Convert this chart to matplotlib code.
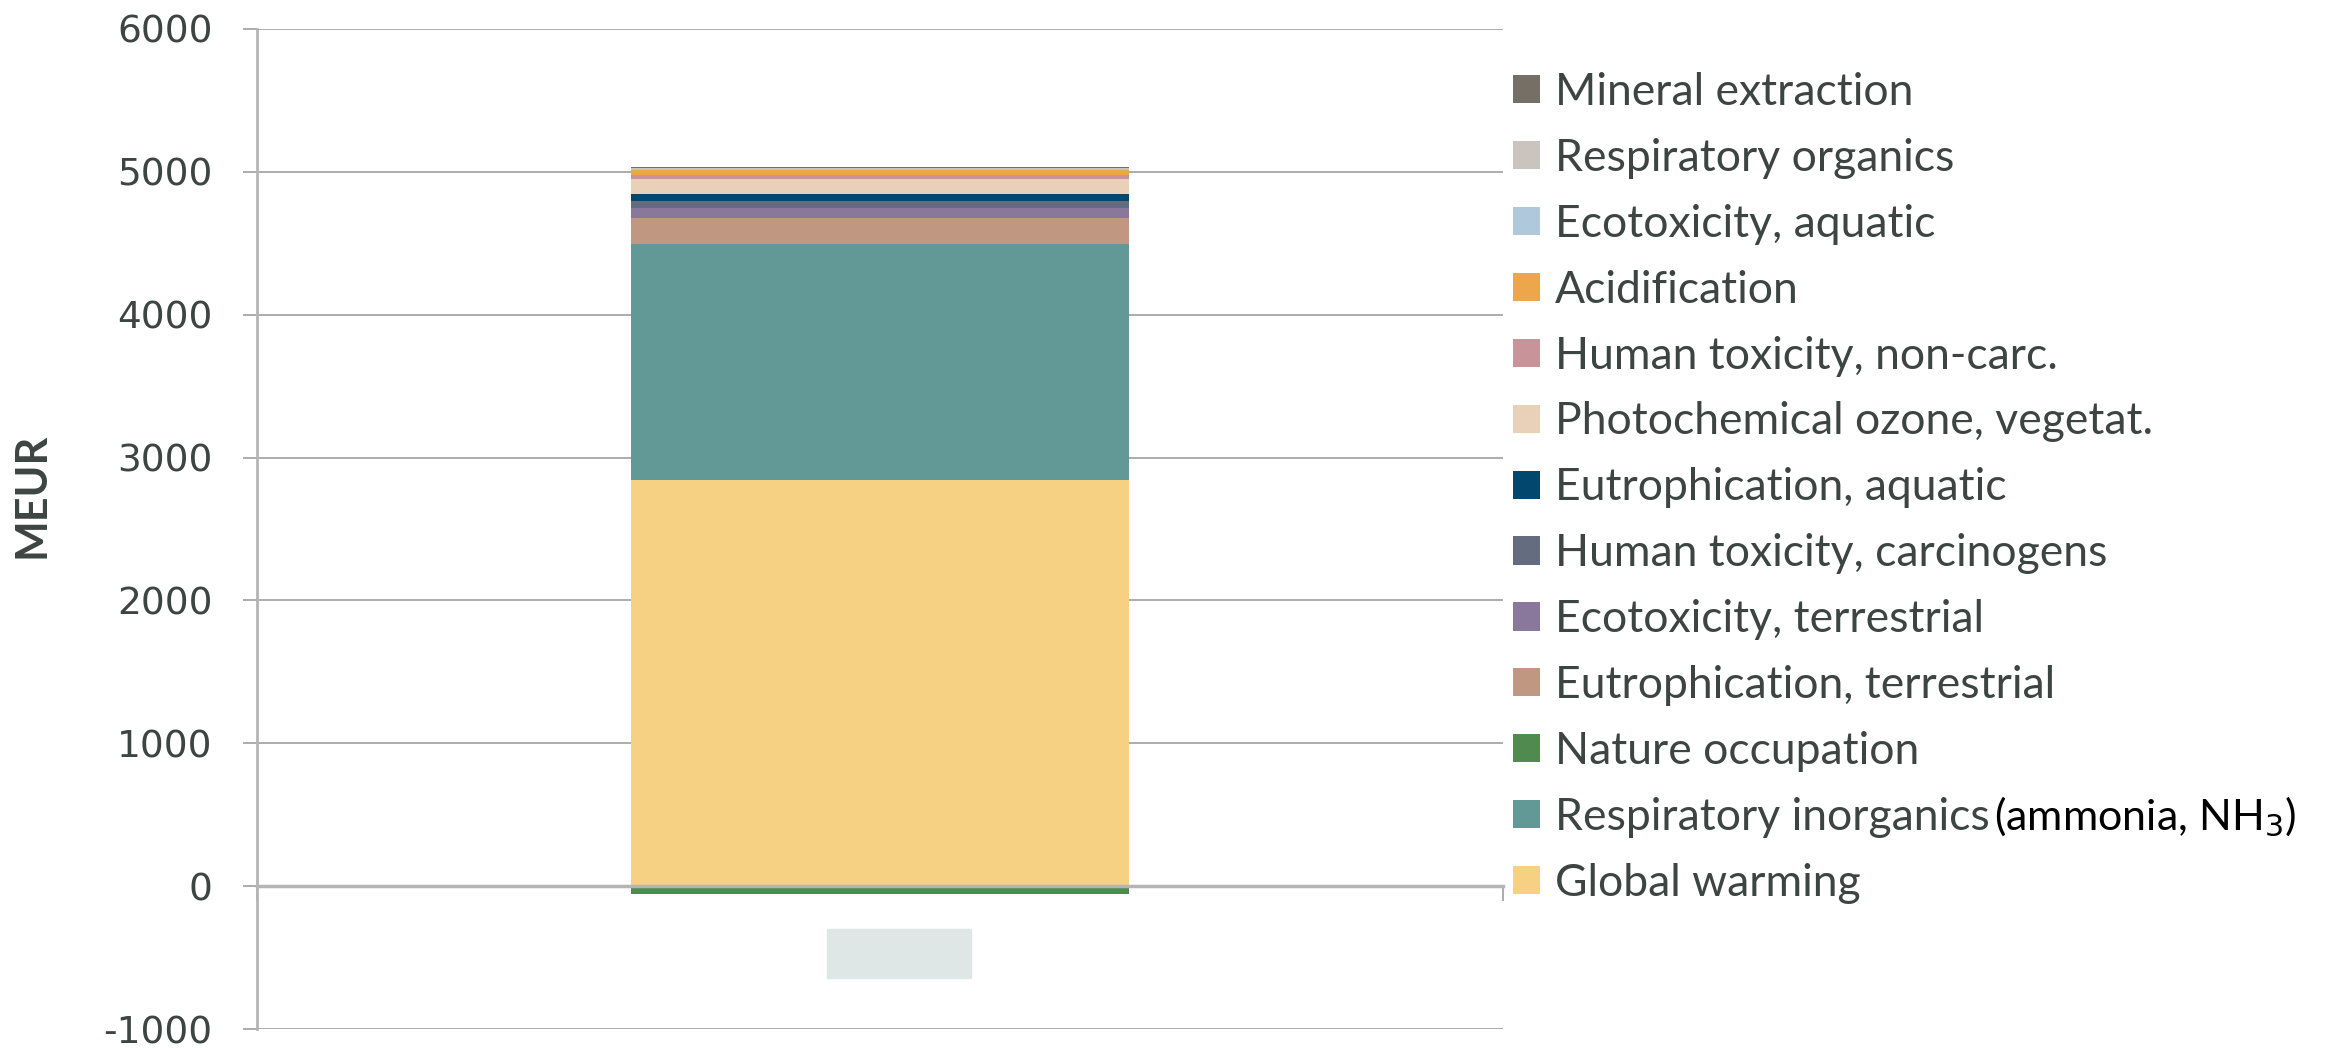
import matplotlib.pyplot as plt
from matplotlib.patches import Rectangle

# stacked from bottom to top
categories = [
    "Global warming",
    "Respiratory inorganics",
    "Nature occupation",
    "Eutrophication, terrestrial",
    "Ecotoxicity, terrestrial",
    "Human toxicity, carcinogens",
    "Eutrophication, aquatic",
    "Photochemical ozone, vegetat.",
    "Human toxicity, non-carc.",
    "Acidification",
    "Ecotoxicity, aquatic",
    "Respiratory organics",
    "Mineral extraction",
]
values = [2846, 1650, -55, 182, 70, 49, 49, 105, 28, 35, 3, 7, 7]
colors = [
    "#F6D083", "#629896", "#4F8A4F", "#C09780", "#89789B", "#646C80",
    "#02476E", "#E8D1B8", "#C99499", "#ECA64C", "#AFC8DB", "#C9C5BE",
    "#757065",
]
yticks = [-1000, 0, 1000, 2000, 3000, 4000, 5000, 6000]

txt = "#3d4543"
grid = "#a6a6a6"

fig = plt.figure(figsize=(23.33, 10.48), dpi=100)
ax = fig.add_axes([257 / 2333, 1 - 1029 / 1048, 1246 / 2333, 1000 / 1048])

pos, neg = 0, 0
handles = []
for name, v, c in zip(categories, values, colors):
    if v >= 0:
        b = ax.bar(0, v, bottom=pos, width=0.4, color=c, label=name, zorder=3)
        pos += v
    else:
        b = ax.bar(0, v, bottom=neg, width=0.4, color=c, label=name, zorder=3)
        neg += v
    handles.append(b)

ax.set_xlim(-0.5, 0.5)
ax.set_ylim(-1000, 6000)
ax.set_yticks(yticks)
ax.set_yticklabels([str(t) for t in yticks], fontsize=27, color=txt,
                   family="DejaVu Sans")
ax.yaxis.grid(True, color=grid, linewidth=1.3, zorder=0)
ax.tick_params(axis="y", length=10, width=1.3, color=grid, pad=22)

# category axis sits at zero
ax.spines["bottom"].set_position(("data", 0))
ax.spines["bottom"].set_color("#b5b5b5")
ax.spines["bottom"].set_linewidth(2.5)
ax.spines["bottom"].set_zorder(4)
ax.set_xticks([-0.5, 0.5])
ax.set_xticklabels([])
ax.tick_params(axis="x", length=11, width=1.3, color=grid, direction="out")
ax.spines["left"].set_color("#b5b5b5")
ax.spines["left"].set_linewidth(2)
ax.spines["top"].set_visible(False)
ax.spines["right"].set_visible(False)

ax.set_ylabel("MEUR", fontsize=31, fontweight="bold", color=txt,
              family="Lato")
ax.yaxis.set_label_coords(-0.165, 0.534)

# placeholder box under the bar for the category name
fig.patches.append(Rectangle((827 / 2333, 1 - 978 / 1048), 144 / 2333,
                             49 / 1048, transform=fig.transFigure,
                             color="#DFE7E6", zorder=1))

leg = fig.legend(handles[::-1], categories[::-1], loc="upper left",
                 bbox_to_anchor=(1513 / 2333, 1 - 72 / 1048),
                 frameon=False, prop={"family": "Lato", "size": 32},
                 handlelength=0.6, handleheight=0.6, handletextpad=0.35,
                 labelspacing=0.56, borderpad=0, borderaxespad=0)
for t in leg.get_texts():
    t.set_color(txt)

resp = [t for t in leg.get_texts() if t.get_text() == "Respiratory inorganics"][0]
fig.canvas.draw()
ax.annotate("(ammonia, NH$_3$)", xy=(1, 0.5), xycoords=resp,
            xytext=(3, 0), textcoords="offset points", va="center",
            ha="left", fontsize=31, family="Lato", color="black")

fig.savefig("out.png", dpi=100)
